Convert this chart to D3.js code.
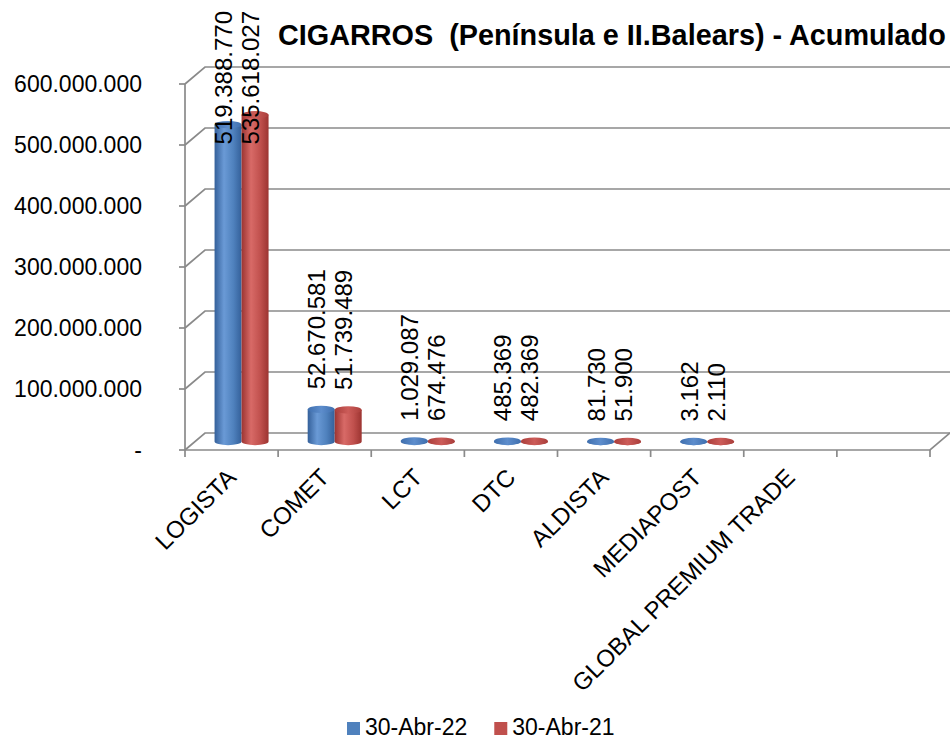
<!DOCTYPE html>
<html>
<head>
<meta charset="utf-8">
<script src="https://cdn.jsdelivr.net/npm/d3@7/dist/d3.min.js"></script>
<style>
  html, body { margin: 0; padding: 0; background: #fff; }
  svg { display: block; }
  text { font-family: "Liberation Sans", Arial, sans-serif; fill: #000; }
</style>
</head>
<body>
<svg id="chart" width="950" height="740"></svg>
<script>
// ---- data ----
const title = "CIGARROS\u00a0\u00a0(Península e II.Balears) - Acumulado";
const categories = ["LOGISTA", "COMET", "LCT", "DTC", "ALDISTA", "MEDIAPOST", "GLOBAL PREMIUM TRADE", ""];
const seriesNames = ["30-Abr-22", "30-Abr-21"];
const values22 = [519388770, 52670581, 1029087, 485369, 81730, 3162, null, null];
const values21 = [535618027, 51739489, 674476, 482369, 51900, 2110, null, null];
const yTicks = [0, 100000000, 200000000, 300000000, 400000000, 500000000, 600000000];

// ---- layout ----
const svg = d3.select("#chart");
const W = 950, H = 740;
const depthX = 20, depthY = -17;
const x = d3.scaleBand().domain(categories).range([185, 930]).padding(0);
const y = d3.scaleLinear().domain([0, 600000000]).range([450, 84]);
const locale = d3.formatLocale({decimal: ",", thousands: ".", grouping: [3], currency: ["", "€"]});
const fmt = locale.format(",d");
const gridColor = "#8a8a8a";
const colors = [
  {dark: "#34609a", light: "#6a9ad6", mid: "#4f81bd", cap: "#5d8dcc", capDark: "#3f6fae"},
  {dark: "#9c3431", light: "#d86a67", mid: "#c0504d", cap: "#cc5c59", capDark: "#aa3e3b"}
];

const defs = svg.append("defs");
colors.forEach((c, i) => {
  const g = defs.append("linearGradient").attr("id", "body" + i)
    .attr("x1", "0%").attr("x2", "100%").attr("y1", "0%").attr("y2", "0%");
  g.append("stop").attr("offset", "0%").attr("stop-color", c.dark);
  g.append("stop").attr("offset", "35%").attr("stop-color", c.light);
  g.append("stop").attr("offset", "70%").attr("stop-color", c.mid);
  g.append("stop").attr("offset", "100%").attr("stop-color", c.dark);
  const t = defs.append("linearGradient").attr("id", "cap" + i)
    .attr("x1", "0%").attr("x2", "100%").attr("y1", "0%").attr("y2", "0%");
  t.append("stop").attr("offset", "0%").attr("stop-color", c.capDark);
  t.append("stop").attr("offset", "50%").attr("stop-color", c.cap);
  t.append("stop").attr("offset", "100%").attr("stop-color", c.capDark);
});

// ---- walls / gridlines ----
const grid = svg.append("g").attr("fill", "none").attr("stroke", gridColor).attr("stroke-width", 1.7);
const x0 = x.range()[0], x1 = x.range()[1];
yTicks.forEach(t => {
  const yy = y(t);
  grid.append("path")
    .attr("d", `M${x0},${yy} L${x0 + depthX},${yy + depthY} L${W + 5},${yy + depthY}`);
});
// floor
grid.append("path").attr("d", `M${x0},${y(0)} L${x1},${y(0)} L${x1 + depthX},${y(0) + depthY}`);
// y axis line
grid.append("line").attr("x1", x0).attr("x2", x0).attr("y1", y(600000000)).attr("y2", y(0));

// y ticks + labels
const yAxisG = svg.append("g");
yTicks.forEach(t => {
  yAxisG.append("line").attr("x1", x0 - 6).attr("x2", x0).attr("y1", y(t)).attr("y2", y(t))
    .attr("stroke", gridColor).attr("stroke-width", 1.7);
  yAxisG.append("text").attr("x", 142).attr("y", y(t)).attr("dy", "0.35em")
    .attr("text-anchor", "end").style("font-size", "23px")
    .text(t === 0 ? "-" : fmt(t));
});

// x ticks at category boundaries
const bounds = categories.map(c => x(c)).concat([x1]);
bounds.forEach(b => {
  svg.append("line").attr("x1", b).attr("x2", b).attr("y1", y(0)).attr("y2", y(0) + 7)
    .attr("stroke", gridColor).attr("stroke-width", 1.7);
});

// x labels
categories.forEach(c => {
  if (!c) return;
  const cx = x(c) + x.bandwidth() / 2 + 6;
  svg.append("text")
    .attr("transform", `translate(${cx},${479}) rotate(-45)`)
    .attr("text-anchor", "end").style("font-size", "24px")
    .text(c);
});

// ---- cylinders ----
const barW = 27, ry = 3.7;
const barsG = svg.append("g");
const labelsG = svg.append("g");
const series = [values22, values21];
categories.forEach((c, ci) => {
  const center = x(c) + x.bandwidth() / 2 + depthX / 2;
  series.forEach((vals, si) => {
    const v = vals[ci];
    if (v == null) return;
    const cx = center + (si === 0 ? -barW / 2 : barW / 2);
    const rx = barW / 2;
    const yBase = y(0) + depthY / 2;
    const yTop = y(v) + depthY / 2;
    barsG.append("path")
      .attr("d", `M${cx - rx},${yBase} L${cx - rx},${yTop} L${cx + rx},${yTop} L${cx + rx},${yBase} A${rx},${ry} 0 0 1 ${cx - rx},${yBase} Z`)
      .attr("fill", `url(#body${si})`);
    barsG.append("ellipse").attr("cx", cx).attr("cy", yTop).attr("rx", rx).attr("ry", ry)
      .attr("fill", `url(#cap${si})`);
    // label
    const lx = cx + 4;
    const lbl = labelsG.append("text").style("font-size", "24px").text(fmt(v));
    const len = lbl.node().getComputedTextLength();
    let ly = yTop - 20;
    if (ly - len < 11) ly = 11 + len;
    lbl.attr("transform", `translate(${lx},${ly}) rotate(-90)`);
  });
});

// ---- title ----
svg.append("text").attr("x", 278).attr("y", 45)
  .style("font-size", "28.8px").style("font-weight", "bold").text(title);

// ---- legend ----
const leg = svg.append("g").attr("transform", "translate(347,0)");
let lxPos = 0;
seriesNames.forEach((n, i) => {
  leg.append("rect").attr("x", lxPos).attr("y", 722).attr("width", 13).attr("height", 13)
    .attr("fill", colors[i].mid);
  const t = leg.append("text").attr("x", lxPos + 18).attr("y", 735).style("font-size", "23px").text(n);
  lxPos += 18 + t.node().getComputedTextLength() + 27;
});
</script>
</body>
</html>
